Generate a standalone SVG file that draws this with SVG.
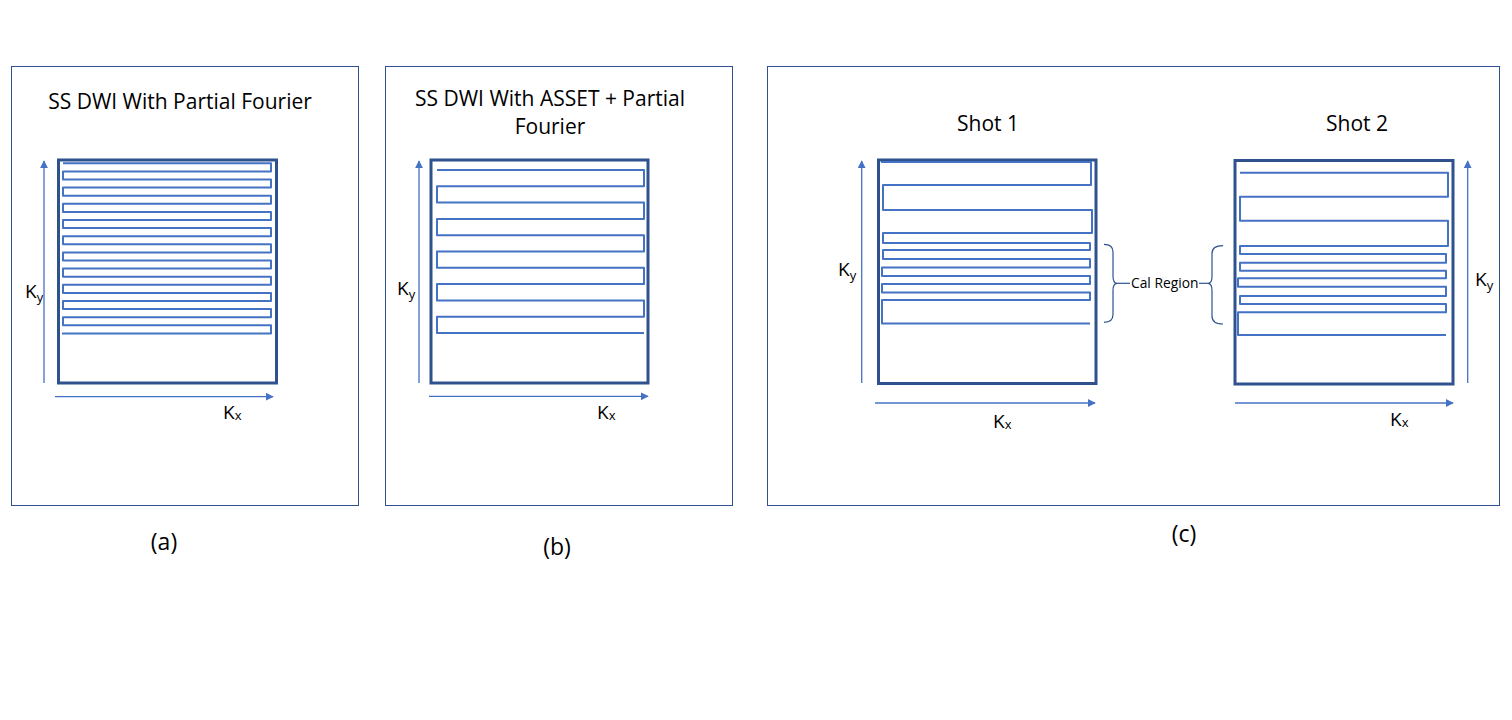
<svg xmlns="http://www.w3.org/2000/svg" width="1512" height="720" viewBox="0 0 1512 720">
<style>
.panel{fill:none;stroke:#2F528F;stroke-width:1}
.kbox{fill:none;stroke:#2F528F;stroke-width:3}
.traj{fill:none;stroke:#4472C4;stroke-width:2;stroke-linejoin:round}
.axis{fill:none;stroke:#4472C4;stroke-width:1.3}
.brace{fill:none;stroke:#2F528F;stroke-width:1.2}
.t{font-family:"Open Sans","Liberation Sans",sans-serif;fill:#000}
.title{font-size:21px;text-anchor:middle}
.k{font-size:19px}
.sub{font-size:13px}
.lab{font-size:23px;text-anchor:middle}
.cal{font-size:13.8px}
</style>
<defs>
<marker id="arr" viewBox="0 0 10 10" refX="9" refY="5" markerWidth="8" markerHeight="8" markerUnits="userSpaceOnUse" orient="auto">
<path d="M0,0 L10,5 L0,10 z" fill="#4472C4"/>
</marker>
</defs>
<rect width="1512" height="720" fill="#fff"/>

<g id="panel-a">
<rect class="panel" x="11.5" y="66.5" width="347" height="439"/>
<text class="t title" x="180" y="109">SS DWI With Partial Fourier</text>
<rect class="kbox" x="58.5" y="160" width="218" height="223"/>
<path class="traj" d="M63,163.3 H271 V171.4 H63 V179.5 H271 V187.6 H63 V195.7 H271 V203.8 H63 V211.9 H271 V220 H63 V228.1 H271 V236.2 H63 V244.3 H271 V252.4 H63 V260.5 H271 V268.6 H63 V276.7 H271 V284.8 H63 V292.9 H271 V301 H63 V309.1 H271 V317.2 H63 V325.3 H271 V333.4 H62"/>
<text class="t k" x="25" y="298">K<tspan class="sub" dy="4">y</tspan></text>
<text class="t k" x="223" y="419">K<tspan class="sub" dy="1">x</tspan></text>
<text class="t lab" x="164" y="550">(a)</text>
</g>

<g id="panel-b">
<rect class="panel" x="385.5" y="66.5" width="347" height="439"/>
<text class="t title" x="550" y="106">SS DWI With ASSET + Partial</text>
<text class="t title" x="550" y="134">Fourier</text>
<rect class="kbox" x="431" y="160" width="217" height="223"/>
<path class="traj" d="M437,170 H644 V186.3 H437 V202.6 H644 V218.9 H437 V235.2 H644 V251.5 H437 V267.8 H644 V284.1 H437 V300.4 H644 V316.7 H437 V333 H644"/>
<text class="t k" x="397" y="295">K<tspan class="sub" dy="4">y</tspan></text>
<text class="t k" x="597" y="419">K<tspan class="sub" dy="1">x</tspan></text>
<text class="t lab" x="557" y="555">(b)</text>
</g>

<g id="panel-c">
<rect class="panel" x="767.5" y="66.5" width="732" height="439"/>
<text class="t lab" x="1184" y="542">(c)</text>
</g>

<g id="shot-1">
<text class="t title" x="988" y="131">Shot 1</text>
<rect class="kbox" x="878.5" y="160" width="217.5" height="223.5"/>
<path class="traj" d="M881,162 H1091 V185 H883 V210 H1092 V233 H883 V243 H1090 V250 H883 V259 H1090 V267.5 H882 V276 H1090 V284 H882 V292.5 H1090 V300 H882 V323.5 H1090"/>
<text class="t k" x="838" y="276">K<tspan class="sub" dy="4">y</tspan></text>
<text class="t k" x="993" y="428">K<tspan class="sub" dy="1">x</tspan></text>
</g>

<g id="shot-2">
<text class="t title" x="1357" y="131">Shot 2</text>
<rect class="kbox" x="1235" y="160.5" width="218" height="223.5"/>
<path class="traj" d="M1240,172.7 H1448 V196.7 H1240 V220.7 H1448 V246 H1240 V254 H1446 V262.7 H1240 V270.7 H1446 V278.3 H1238 V286.7 H1446 V296 H1240 V304 H1446 V312.3 H1238 V335 H1446"/>
<text class="t k" x="1475" y="286">K<tspan class="sub" dy="4">y</tspan></text>
<text class="t k" x="1390" y="426">K<tspan class="sub" dy="1">x</tspan></text>
</g>

<g id="cal-region">
<path class="brace" d="M1104,244.3 Q1113,244.3 1113,252 V276 Q1113,283.3 1117,283.3 Q1113,283.3 1113,290.5 V314.5 Q1113,322.3 1104,322.3"/>
<path class="brace" d="M1117,283.3 H1130"/>
<text class="t cal" x="1131" y="288">Cal Region</text>
<path class="brace" d="M1199,283.3 H1208"/>
<path class="brace" d="M1223,245.7 Q1212,245.7 1212,253.5 V276.5 Q1212,283.3 1208,283.3 Q1212,283.3 1212,290.5 V316 Q1212,324 1223,324"/>
</g>

<g id="connectors">
<line class="axis" x1="44" y1="383" x2="44" y2="161" marker-end="url(#arr)"/>
<line class="axis" x1="55" y1="396.7" x2="273" y2="396.7" marker-end="url(#arr)"/>
<line class="axis" x1="419" y1="383" x2="419" y2="161" marker-end="url(#arr)"/>
<line class="axis" x1="429" y1="396.3" x2="648" y2="396.3" marker-end="url(#arr)"/>
<line class="axis" x1="861.7" y1="383" x2="861.7" y2="161" marker-end="url(#arr)"/>
<line class="axis" x1="875" y1="403" x2="1095" y2="403" marker-end="url(#arr)"/>
<line class="axis" x1="1467.7" y1="383" x2="1467.7" y2="161" marker-end="url(#arr)"/>
<line class="axis" x1="1235" y1="403" x2="1453" y2="403" marker-end="url(#arr)"/>
</g>
</svg>
